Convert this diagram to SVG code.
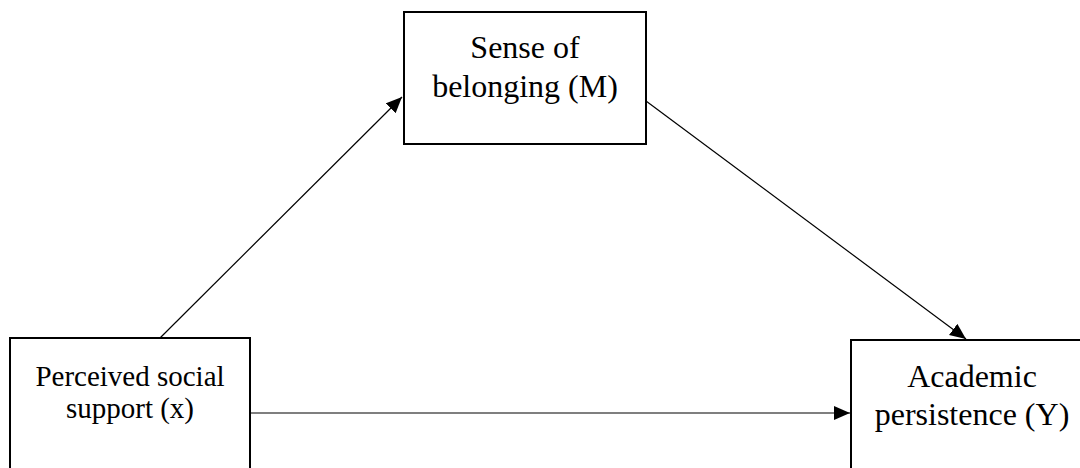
<svg xmlns="http://www.w3.org/2000/svg" width="1080" height="468" viewBox="0 0 1080 468">
<style>
.box{fill:#fff;stroke:#000;stroke-width:2}
.edge{stroke:#000;stroke-width:1.2;fill:none}
.lbl{font-family:"Liberation Serif","Times New Roman",serif;font-size:32px;fill:#000;text-anchor:middle}
.lbl-s{font-family:"Liberation Serif","Times New Roman",serif;font-size:29px;fill:#000;text-anchor:middle}
</style>
<defs>
<marker id="arr" markerUnits="userSpaceOnUse" markerWidth="18" markerHeight="16" refX="16" refY="7" orient="auto">
<path d="M0,0 L16,7 L0,14 z" fill="#000"/>
</marker>
</defs>
<rect width="1080" height="468" fill="#fff"/>
<g id="connectors">
<line class="edge" x1="160" y1="338" x2="402" y2="97" marker-end="url(#arr)"/>
<line class="edge" x1="646" y1="101" x2="966" y2="339" marker-end="url(#arr)"/>
<line class="edge" x1="250" y1="413" x2="850" y2="413" marker-end="url(#arr)"/>
</g>
<g id="node-m">
<rect class="box" x="404" y="12" width="242" height="132"/>
<text class="lbl" x="525" y="58">Sense of</text>
<text class="lbl" x="525" y="97">belonging (M)</text>
</g>
<g id="node-x">
<rect class="box" x="10" y="338" width="240" height="150"/>
<text class="lbl-s" x="130" y="386">Perceived social</text>
<text class="lbl-s" x="130" y="418">support (x)</text>
</g>
<g id="node-y">
<rect class="box" x="851" y="340" width="242" height="150"/>
<text class="lbl" x="972" y="387">Academic</text>
<text class="lbl" x="972" y="425">persistence (Y)</text>
</g>
</svg>
